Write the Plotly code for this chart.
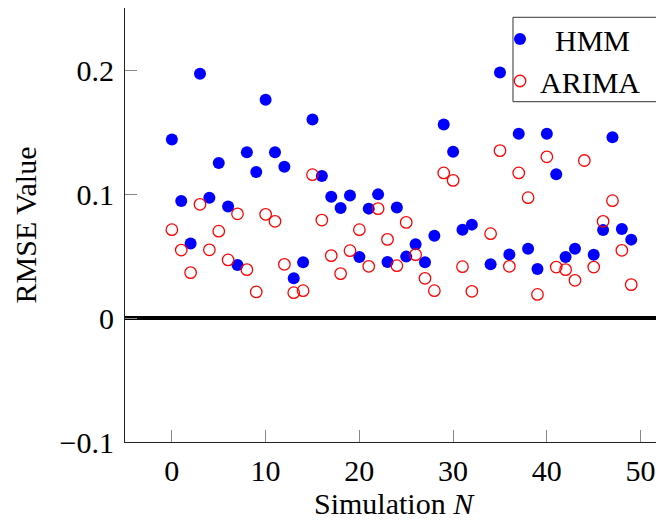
import plotly.graph_objects as go

sim = list(range(50))
hmm = [0.144, 0.0944, 0.060, 0.197, 0.097, 0.125, 0.090, 0.0427, 0.1336, 0.1177,
       0.176, 0.1336, 0.122, 0.032, 0.045, 0.160, 0.1145, 0.0978, 0.0887, 0.0987,
       0.0492, 0.0882, 0.0997, 0.0452, 0.0892, 0.0495, 0.0594, 0.045, 0.0664, 0.156,
       0.134, 0.0712, 0.0753, None, 0.0433, 0.198, 0.0513, 0.1486, 0.0559, 0.0395,
       0.1486, 0.1159, 0.0492, 0.0559, None, 0.051, 0.071, 0.1457, 0.0718, 0.0632]
arima = [0.0712, 0.0548, 0.0366, 0.0917, 0.055, 0.070, 0.0468, 0.084, 0.039, 0.021,
         0.0836, 0.078, 0.0433, 0.0204, 0.022, 0.1156, 0.079, 0.0503, 0.0358, 0.0543,
         0.0712, 0.0417, 0.0882, 0.0634, 0.0422, 0.0771, 0.0511, 0.032, 0.022, 0.117,
         0.111, 0.0414, 0.0215, None, 0.068, 0.135, 0.0417, 0.117, 0.097, 0.019,
         0.130, 0.0411, 0.039, 0.0304, 0.127, 0.0411, 0.078, 0.0946, 0.0546, 0.0269]

x_ticks = [0, 10, 20, 30, 40, 50]
y_ticks = [-0.1, 0, 0.1, 0.2]
y_tick_text = ["\u22120.1", "0", "0.1", "0.2"]

FONT = "'Liberation Serif', 'Times New Roman', Times, serif"

fig = go.Figure()
fig.add_trace(go.Scatter(
    x=sim, y=hmm, mode="markers", name="\u00a0\u00a0HMM",
    marker=dict(symbol="circle", size=12, color="#0000ff", line=dict(width=0)),
))
fig.add_trace(go.Scatter(
    x=sim, y=arima, mode="markers", name="ARIMA",
    marker=dict(symbol="circle-open", size=11.5, color="#ff0000", line=dict(width=1.3, color="#ff0000")),
))

# legend frame (white box drawn over the data, under the legend entries)
fig.add_shape(type="rect", xref="paper", yref="paper",
              x0=0.7093, x1=1.06, y0=0.7841, y1=0.9786,
              fillcolor="white", line=dict(color="#333", width=1), layer="above")

fig.update_layout(
    width=664, height=520,
    margin=dict(l=117, r=0, t=0, b=86, autoexpand=False),
    plot_bgcolor="white", paper_bgcolor="white",
    font=dict(family=FONT, size=30, color="black"),
    showlegend=True,
    legend=dict(
        x=(492 - 117) / 547, y=(434 - 5) / 434,
        xanchor="left", yanchor="top",
        bgcolor="rgba(0,0,0,0)", borderwidth=0,
        font=dict(family=FONT, size=30, color="black"),
        itemsizing="trace", tracegroupgap=0,
    ),
    xaxis=dict(
        range=[-5, 53.35], tickvals=x_ticks,
        showgrid=False, zeroline=False,
        showline=True, linecolor="#222", linewidth=1, mirror=True,
        ticks="inside", ticklen=12, tickwidth=1, tickcolor="#888",
        ticklabelstandoff=2,
        tickfont=dict(family=FONT, size=30),
        automargin=False,
    ),
    yaxis=dict(
        range=[-0.1, 0.25], tickvals=y_ticks, ticktext=y_tick_text,
        showgrid=False,
        zeroline=True, zerolinecolor="black", zerolinewidth=4,
        showline=True, linecolor="#222", linewidth=1, mirror=False,
        ticks="inside", ticklen=12, tickwidth=1, tickcolor="#888",
        ticklabelstandoff=4,
        automargin=False,
        tickfont=dict(family=FONT, size=30),
        title=dict(text="RMSE Value", font=dict(family=FONT, size=30), standoff=14),
    ),
    annotations=[dict(
        text="Simulation <i>N</i>", xref="paper", yref="paper",
        x=0.4936, y=-0.1406, xanchor="center", yanchor="middle",
        showarrow=False, font=dict(family=FONT, size=30, color="black"),
    )],
)

fig.write_html("out.html")
